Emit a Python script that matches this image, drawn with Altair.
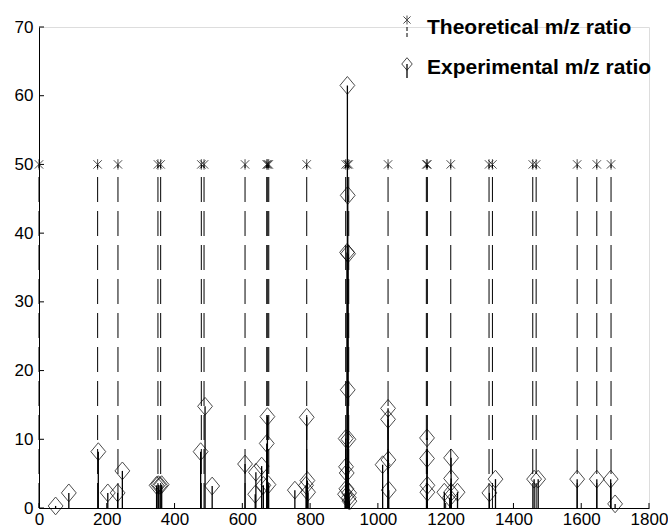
import altair as alt
import pandas as pd

# ---- data ----
theo_mz = [0, 173, 233, 351, 359, 479, 487, 608, 672, 675, 678, 790,
           905, 910, 914, 1030, 1143, 1146, 1215, 1328, 1338, 1457, 1467,
           1588, 1646, 1688]
theo_val = 50

exp_mz = [49, 88, 175, 203, 232, 246, 347, 352, 357, 362, 477, 490, 511,
          608, 638, 640, 657, 662, 672, 674, 677, 755, 788, 790, 792, 794,
          903, 905, 906, 907, 908, 909, 910, 911, 911, 912, 913, 914, 915, 916,
          1014, 1030, 1030, 1031, 1032, 1145, 1145, 1146, 1146,
          1196, 1212, 1216, 1216, 1216, 1235, 1329, 1347, 1461, 1473,
          1588, 1646, 1687, 1700]
exp_val = [0.3, 2.2, 8.2, 2.2, 2.2, 5.4, 3.3, 3.4, 3.3, 3.4, 8.2, 14.8, 3.2,
           6.4, 2.0, 5.2, 6.1, 3.3, 9.4, 13.3, 3.4, 2.6, 3.3, 13.2, 4.0, 2.3,
           2.0, 10.1, 6.0, 2.8, 5.1, 37.2, 61.5, 45.5, 17.2, 37.0, 10.0, 1.5, 2.2, 1.0,
           6.3, 14.5, 12.9, 7.0, 2.6, 10.2, 7.2, 3.3, 2.3,
           2.3, 1.5, 7.3, 4.3, 2.3, 2.3, 2.2, 4.2, 4.2, 4.2,
           4.2, 4.2, 4.2, 0.6]

x_ticks = [0, 200, 400, 600, 800, 1000, 1200, 1400, 1600, 1800]
y_ticks = [0, 10, 20, 30, 40, 50, 60, 70]
legend_labels = ["Theoretical m/z ratio", "Experimental m/z ratio"]

W, H = 610, 481
FONT = "Liberation Sans, Arial, Helvetica, sans-serif"

theo = pd.DataFrame({"mz": theo_mz, "val": [theo_val] * len(theo_mz), "base": [0] * len(theo_mz)})
exp = pd.DataFrame({"mz": exp_mz, "val": exp_val, "base": [0] * len(exp_mz)})
xt = pd.DataFrame({"t": x_ticks})
yt = pd.DataFrame({"t": y_ticks})

xs = alt.Scale(domain=[0, 1800], nice=False, zero=False)
ys = alt.Scale(domain=[0, 70], nice=False, zero=False)

x_axis = alt.Axis(values=x_ticks, format="d", ticks=False, grid=False, domainColor="black",
                  domainWidth=1, labelFont=FONT, labelFontSize=17, labelColor="black",
                  labelPadding=3, title=None, labelFlush=False)
y_axis = alt.Axis(values=y_ticks, format="d", ticks=False, grid=False, domainColor="black",
                  domainWidth=1, labelFont=FONT, labelFontSize=17, labelColor="black",
                  labelPadding=6, title=None)

ASTER = "M0,-1L0,1M-0.8,-0.8L0.8,0.8M-0.8,0.8L0.8,-0.8"
DIAM = "M0,-1.2L1,0L0,1.2L-1,0Z"

theo_rules = alt.Chart(theo).mark_rule(color="black", strokeWidth=1, strokeDash=[25, 9]).encode(
    x=alt.X("mz:Q", scale=xs, axis=x_axis),
    y=alt.Y("base:Q", scale=ys, axis=y_axis),
    y2="val:Q",
)
theo_pts = alt.Chart(theo).mark_point(shape=ASTER, size=110, color="black", strokeWidth=1).encode(
    x=alt.X("mz:Q", scale=xs), y=alt.Y("val:Q", scale=ys)
)
exp_rules = alt.Chart(exp).mark_rule(color="black", strokeWidth=1.3).encode(
    x=alt.X("mz:Q", scale=xs), y=alt.Y("base:Q", scale=ys), y2="val:Q"
)
exp_pts = alt.Chart(exp).mark_point(shape=DIAM, size=220, color="black", filled=False,
                                    strokeWidth=1).encode(
    x=alt.X("mz:Q", scale=xs), y=alt.Y("val:Q", scale=ys)
)

xtick_marks = alt.Chart(xt).mark_rule(color="black", strokeWidth=1).encode(
    x=alt.X("t:Q", scale=xs), y=alt.value(H), y2=alt.value(H - 5)
)
ytick_marks = alt.Chart(yt).mark_rule(color="black", strokeWidth=1).encode(
    y=alt.Y("t:Q", scale=ys), x=alt.value(0), x2=alt.value(5)
)

# legend
leg1 = pd.DataFrame({"label": [legend_labels[0]]})
leg2 = pd.DataFrame({"label": [legend_labels[1]]})
LX = 368
leg1_sym = alt.Chart(leg1).mark_point(shape=ASTER, size=80, color="black", strokeWidth=1).encode(
    x=alt.value(LX), y=alt.value(-7))
leg1_line = alt.Chart(leg1).mark_rule(color="black", strokeWidth=1, strokeDash=[4, 2]).encode(
    x=alt.value(LX), y=alt.value(0), y2=alt.value(11))
leg1_txt = alt.Chart(leg1).mark_text(align="left", baseline="middle", font=FONT, fontSize=21,
                                     fontWeight="bold", color="black").encode(
    x=alt.value(388), y=alt.value(1), text="label:N")
leg2_sym = alt.Chart(leg2).mark_point(shape=DIAM, size=110, color="black", filled=False,
                                      strokeWidth=1).encode(
    x=alt.value(LX), y=alt.value(37))
leg2_line = alt.Chart(leg2).mark_rule(color="black", strokeWidth=1.3).encode(
    x=alt.value(LX), y=alt.value(37), y2=alt.value(51))
leg2_txt = alt.Chart(leg2).mark_text(align="left", baseline="middle", font=FONT, fontSize=21,
                                     fontWeight="bold", color="black").encode(
    x=alt.value(388), y=alt.value(41), text="label:N")

chart = alt.layer(
    theo_rules, exp_rules, theo_pts, exp_pts, xtick_marks, ytick_marks,
    leg1_line, leg1_sym, leg1_txt, leg2_line, leg2_sym, leg2_txt,
).properties(
    width=W, height=H,
    autosize=alt.AutoSizeParams(type="none"),
    padding={"left": 39, "top": 27, "right": 19, "bottom": 23},
).configure_view(stroke=None).configure(background="white")

chart.save("out.html", embed_options={"renderer": "svg", "actions": False})
